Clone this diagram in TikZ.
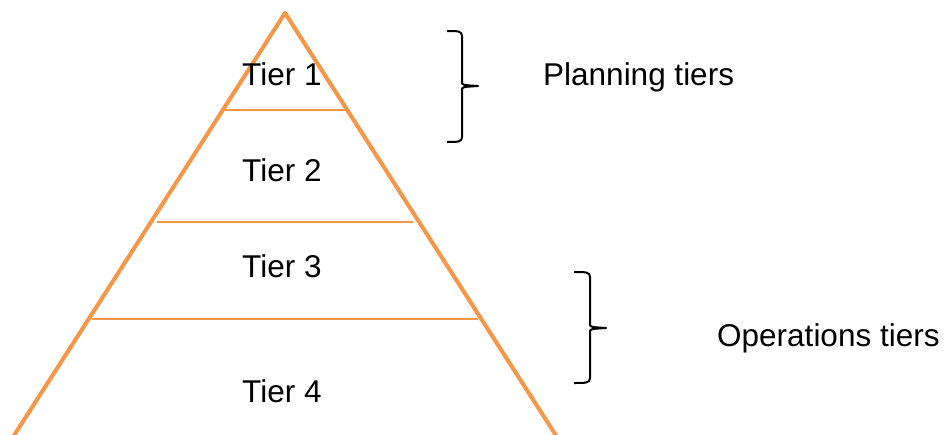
\documentclass[tikz,border=0pt]{standalone}
\usepackage{fontspec}
\setmainfont{Liberation Sans}
\definecolor{tierorange}{HTML}{F79646}
\begin{document}
\begin{tikzpicture}[x=1pt,y=-1pt,
  lbl/.style={anchor=base west,inner sep=0pt,font=\fontsize{31.5}{36}\selectfont},
  outline/.style={draw=tierorange,line width=4pt,line join=round},
  divider/.style={draw=tierorange,line width=1.8pt},
  bracepath/.style={draw=black,line width=2pt,line join=round}]
\useasboundingbox (0,0) rectangle (945,434);
\coordinate (apex) at (285,13);
\coordinate (bl) at (13,437);
\coordinate (br) at (557,437);
\draw[outline] (bl) -- (apex) -- (br);
\coordinate (d1l) at (224,110); \coordinate (d1r) at (347,110);
\coordinate (d2l) at (157,222); \coordinate (d2r) at (413,222);
\coordinate (d3l) at (92,319);  \coordinate (d3r) at (478,319);
\draw[divider] (d1l) -- (d1r);
\draw[divider] (d2l) -- (d2r);
\draw[divider] (d3l) -- (d3r);
\node[lbl] (t1) at (242,85) {Tier 1};
\node[lbl] (t2) at (242,181) {Tier 2};
\node[lbl] (t3) at (242,277) {Tier 3};
\node[lbl] (t4) at (242,402) {Tier 4};
\node[lbl] (plan) at (543,85) {Planning tiers};
\node[lbl] (ops) at (717,346) {Operations tiers};
% braces
\draw[bracepath] (447,31) .. controls (458,31) and (462,31) .. (462,36)
  -- (462,82) .. controls (462,85) .. (478,86)
  .. controls (462,87) .. (462,90) -- (462,137)
  .. controls (462,142) and (458,142) .. (447,142);
\draw[bracepath] (574,272) .. controls (586,272) and (590,272) .. (590,277)
  -- (590,324) .. controls (590,327) .. (606,328)
  .. controls (590,329) .. (590,332) -- (590,378)
  .. controls (590,383) and (586,383) .. (574,383);
\end{tikzpicture}
\end{document}
